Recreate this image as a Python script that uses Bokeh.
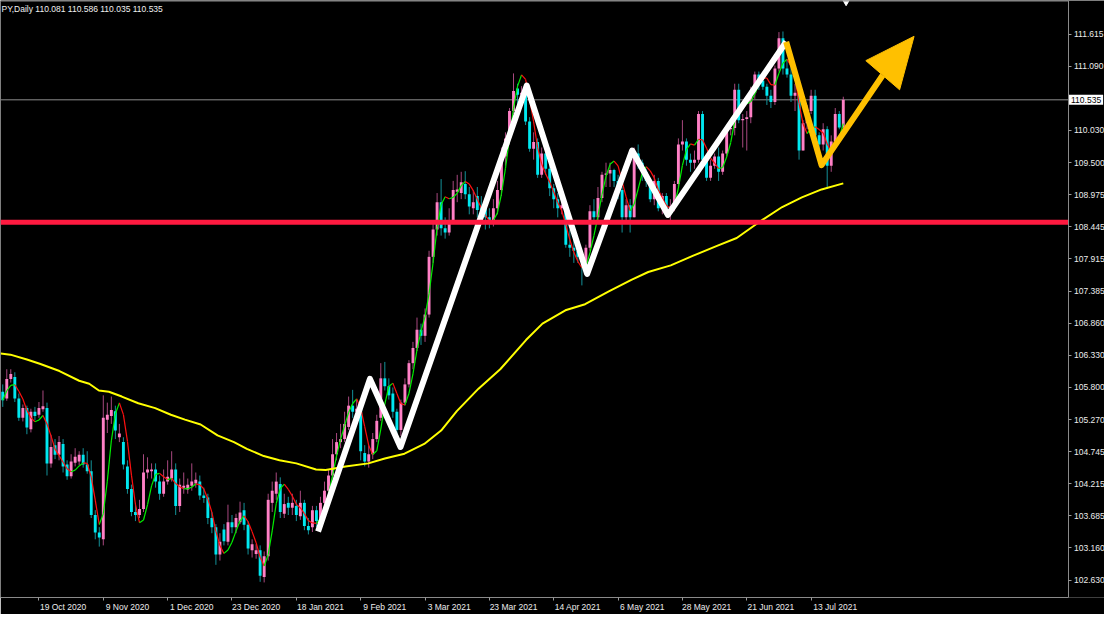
from bokeh.plotting import figure
from bokeh.models import FixedTicker, NumeralTickFormatter, Label, Range1d
from bokeh.embed import file_html
from bokeh.resources import INLINE

# ---------------- data (USDJPY daily) ----------------
opens = [105.73,105.62,105.94,105.97,105.62,105.30,105.46,105.11,105.40,105.35,
         105.44,105.46,104.55,104.85,104.69,104.87,104.53,104.34,104.56,104.58,
         104.69,104.53,104.42,103.70,103.41,103.30,105.27,105.33,105.41,104.98,
         104.90,104.50,104.13,103.75,103.70,103.80,104.40,104.42,104.45,104.25,
         104.05,104.25,104.30,104.45,103.85,104.15,104.12,104.18,104.22,104.25,
         104.02,103.99,103.65,103.50,103.05,103.46,103.26,103.58,103.50,103.58,
         103.78,103.54,103.12,103.06,103.12,102.68,103.02,103.90,104.05,104.21,
         103.72,103.90,103.82,103.85,103.68,103.90,103.52,103.50,103.78,103.60,
         103.90,104.10,104.35,104.70,104.90,104.95,105.15,105.50,105.40,105.45,
         104.72,104.58,104.70,104.95,105.30,105.95,105.82,105.70,105.40,105.10,
         105.55,105.85,106.20,106.45,106.75,106.65,107.00,107.95,108.40,108.85,
         108.42,108.35,108.55,109.02,109.00,109.15,108.98,108.75,108.95,108.78,
         108.82,108.60,108.55,108.75,109.05,109.60,109.90,110.35,110.72,110.62,
         110.65,110.18,109.73,109.84,109.30,109.65,109.40,109.08,108.90,108.75,
         108.80,108.15,108.10,108.05,107.95,107.85,108.10,108.70,108.60,108.92,
         109.30,109.32,109.38,109.20,109.05,108.60,108.80,108.60,109.65,109.50,
         109.35,109.20,108.90,109.20,108.75,108.95,108.75,108.78,109.15,109.80,
         109.85,109.55,109.50,109.55,110.30,109.55,109.25,109.45,109.60,109.35,
         109.65,110.05,110.07,110.70,110.20,110.22,110.25,110.65,110.95,110.85,
         110.75,110.60,110.50,111.05,111.55,111.05,110.95,110.60,110.65,109.70,
         110.15,110.35,110.60,109.95,109.80,110.05,109.45,109.85,110.30,110.081]
highs = [105.85,106.10,106.10,106.05,105.70,105.52,105.50,105.45,105.48,105.56,
         105.75,105.55,105.02,104.95,105.00,104.95,104.60,104.70,104.80,104.75,
         104.80,104.75,104.60,103.78,103.50,105.67,105.55,105.65,105.50,105.20,
         104.98,104.60,104.20,103.90,103.95,104.70,104.65,104.55,104.55,104.35,
         104.45,104.60,104.75,104.55,104.30,104.40,104.30,104.55,104.40,104.35,
         104.15,104.05,103.75,103.55,103.40,103.55,103.87,103.70,103.72,103.92,
         103.90,103.60,103.30,103.22,103.20,103.10,104.05,104.25,104.40,104.32,
         104.05,104.00,104.05,103.95,104.10,103.95,103.65,103.85,103.85,104.00,
         104.25,104.45,104.95,105.05,105.20,105.40,105.65,105.76,105.60,105.50,
         104.85,104.85,105.05,105.35,106.20,106.22,105.95,105.80,105.45,105.60,
         105.95,106.25,106.55,106.95,106.85,107.10,108.05,108.55,109.00,109.23,
         108.60,108.75,109.20,109.30,109.35,109.36,109.10,109.05,109.10,108.95,
         108.90,108.75,108.90,109.20,109.75,110.00,110.40,110.97,110.80,110.76,
         110.68,110.25,110.00,109.90,109.75,109.75,109.75,109.15,109.00,108.95,
         108.85,108.40,108.25,108.20,108.05,108.15,108.80,108.90,109.10,109.35,
         109.50,109.50,109.40,109.30,109.10,108.90,108.90,109.75,109.80,109.55,
         109.40,109.25,109.30,109.25,109.00,109.00,108.90,109.20,109.90,110.20,
         109.90,109.65,109.70,110.35,110.35,109.60,109.55,109.65,109.75,109.70,
         110.10,110.15,110.80,110.80,110.30,110.35,110.75,111.00,111.00,110.95,
         110.80,110.70,111.10,111.65,111.66,111.20,111.15,110.80,110.70,110.20,
         110.45,110.70,110.70,110.00,110.15,110.10,109.95,110.40,110.35,110.586]
lows = [105.48,105.58,105.88,105.56,105.25,105.24,105.03,105.06,105.26,105.30,
        105.40,104.35,104.48,104.62,104.60,104.40,104.28,104.30,104.50,104.52,
        104.48,104.38,103.65,103.30,103.18,103.20,105.05,105.20,104.95,104.90,
        104.45,104.05,103.68,103.60,103.65,103.75,104.30,104.30,104.15,103.95,
        104.00,104.20,104.25,103.70,103.75,104.05,104.05,104.10,104.15,103.95,
        103.90,103.55,103.40,102.88,102.95,103.20,103.20,103.40,103.40,103.55,
        103.45,103.05,103.00,102.98,102.60,102.59,102.95,103.75,103.95,103.65,
        103.65,103.70,103.70,103.60,103.62,103.45,103.38,103.42,103.50,103.50,
        103.85,104.00,104.30,104.60,104.80,104.90,105.10,105.30,105.25,104.60,
        104.50,104.48,104.62,104.90,105.25,105.75,105.60,105.30,104.93,105.00,
        105.50,105.80,106.10,106.40,106.50,106.55,106.95,107.85,108.30,108.30,
        108.25,108.30,108.50,108.85,108.90,108.90,108.65,108.65,108.60,108.50,
        108.40,108.42,108.45,108.65,108.95,109.45,109.80,110.30,110.38,110.50,
        110.12,109.68,109.55,109.25,109.25,109.30,108.95,108.75,108.60,108.65,
        108.10,107.95,107.85,107.85,107.48,107.75,108.05,108.55,108.55,108.85,
        109.10,109.10,109.10,108.90,108.35,108.50,108.35,108.60,109.40,109.20,
        109.10,108.85,108.80,108.70,108.65,108.70,108.55,108.70,109.10,109.70,
        109.45,109.35,109.40,109.50,109.50,109.20,109.20,109.40,109.20,109.30,
        109.60,109.95,109.95,110.15,109.75,109.70,110.15,110.55,110.70,110.70,
        110.45,110.40,110.45,111.00,110.95,110.90,110.50,110.35,109.55,109.70,
        110.05,110.30,109.80,109.70,109.70,109.07,109.35,109.80,110.05,110.035]
closes = [105.59,105.94,106.02,105.62,105.30,105.46,105.14,105.40,105.33,105.46,
          105.49,104.55,104.82,104.69,104.90,104.50,104.34,104.58,104.66,104.69,
          104.53,104.42,103.70,103.41,103.33,105.30,105.35,105.43,105.09,105.04,
          104.53,104.13,103.75,103.70,103.80,104.40,104.45,104.45,104.25,104.05,
          104.25,104.33,104.45,103.85,104.20,104.18,104.20,104.25,104.28,104.02,
          103.98,103.65,103.50,103.05,103.26,103.27,103.58,103.50,103.65,103.74,
          103.54,103.15,103.22,103.12,102.70,103.02,103.95,104.10,104.25,103.75,
          103.88,103.82,103.90,103.70,103.90,103.52,103.45,103.78,103.60,103.90,
          104.10,104.35,104.70,104.90,104.95,105.20,105.50,105.40,105.45,104.75,
          104.58,104.70,104.95,105.25,105.95,105.82,105.67,105.40,105.10,105.55,
          105.85,106.20,106.45,106.75,106.65,107.00,107.95,108.40,108.85,108.42,
          108.35,108.55,109.05,109.06,109.18,108.98,108.78,108.85,108.72,108.62,
          108.60,108.55,108.75,109.05,109.60,109.90,110.35,110.68,110.62,110.65,
          110.18,109.73,109.84,109.30,109.65,109.40,109.08,108.90,108.75,108.80,
          108.15,108.10,108.05,107.95,107.88,108.10,108.70,108.60,108.92,109.30,
          109.32,109.38,109.20,109.05,108.60,108.80,108.60,109.65,109.50,109.35,
          109.20,108.90,109.20,108.75,108.95,108.75,108.78,109.15,109.80,109.85,
          109.55,109.50,109.55,110.30,109.55,109.25,109.45,109.60,109.35,109.65,
          110.05,110.07,110.70,110.20,110.22,110.25,110.65,110.95,110.85,110.75,
          110.60,110.50,111.05,111.55,111.05,110.95,110.60,110.65,109.70,110.15,
          110.35,110.60,109.95,109.80,110.05,109.45,109.85,110.30,110.08,110.535]

# date axis: bar index of each date label
date_tick_bars = [9, 25, 41, 57, 73, 89, 105, 121, 137, 153, 169, 185, 201]
date_tick_labels = ["19 Oct 2020", "9 Nov 2020", "1 Dec 2020", "23 Dec 2020",
                    "18 Jan 2021", "9 Feb 2021", "3 Mar 2021", "23 Mar 2021",
                    "14 Apr 2021", "6 May 2021", "28 May 2021", "21 Jun 2021",
                    "13 Jul 2021"]
price_ticks = [102.630, 103.160, 103.685, 104.215, 104.745, 105.270, 105.800,
               106.330, 106.860, 107.385, 107.915, 108.445, 108.975, 109.500,
               110.030, 111.090, 111.615]

header_text = "PY,Daily  110.081 110.586 110.035 110.535"
last_price = 110.535
support_level = 108.52

# slow moving average (yellow), read at points along the curve
ma_bars = [-0.5, 1.9, 6.0, 9.2, 14.1, 19.0, 21.5, 23.9, 26.4, 29.6, 33.7, 37.9,
           41.8, 45.3, 49.2, 53.4, 57.5, 60.7, 64.9, 68.8, 73.0, 77.9, 80.3,
           85.2, 90.9, 95.0, 99.9, 104.8, 109.0, 112.9, 118.3, 123.7, 130.1,
           134.2, 139.9, 144.8, 150.7, 156.3, 160.5, 166.1, 171.7, 177.6,
           182.5, 188.9, 193.8, 198.7, 203.6, 209.0]
ma_vals = [106.36, 106.34, 106.26, 106.19, 106.07, 105.91, 105.86, 105.75,
           105.73, 105.65, 105.54, 105.46, 105.35, 105.27, 105.19, 105.01,
           104.90, 104.79, 104.67, 104.60, 104.55, 104.45, 104.44, 104.50,
           104.55, 104.63, 104.71, 104.87, 105.09, 105.41, 105.78, 106.10,
           106.58, 106.85, 107.07, 107.17, 107.38, 107.57, 107.70, 107.81,
           107.97, 108.13, 108.26, 108.56, 108.77, 108.93, 109.06, 109.16]

# hand-drawn zig-zag (white) and arrow (gold)
zig_bars = [78.4, 91.3, 98.9, 130.3, 145.3, 156.5, 165.4, 194.8]
zig_prices = [103.43, 105.94, 104.82, 110.77, 107.67, 109.70, 108.64, 111.49]
arrow_bars = [194.8, 203.6, 218.8]
arrow_prices = [111.49, 109.46, 110.94]
head_bars = [214.6, 226.6, 223.0]
head_prices = [111.18, 111.58, 110.70]

# ---------------- figure ----------------
N = min(len(opens), len(highs), len(lows), len(closes))
idx = list(range(N))
X0, X1 = -0.56, 273.95      # whole canvas width (incl. price-scale strip)
XA = 264.88                 # where the price scale sits
Y0, Y1 = 102.342, 112.17
FONT = "Liberation Sans"
TXT = "#ececec"
FRAME = "#8a8a8a"

p = figure(width=1104, height=614,
           x_range=Range1d(X0, X1), y_range=Range1d(Y0, Y1),
           output_backend="svg", toolbar_location=None,
           y_axis_location="right",
           min_border_left=0, min_border_top=0,
           min_border_right=0, min_border_bottom=14,
           background_fill_color="black", border_fill_color="black",
           outline_line_color=None)
p.grid.visible = False

# current-price line (behind the bars)
p.segment(x0=[X0], y0=[last_price], x1=[XA], y1=[last_price],
          line_color="#8c8c8c", line_width=1)

bull_body, bear_body = "#ff80c6", "#00e8f0"
bull_wick, bear_wick = "#a8487f", "#139098"
up = [closes[i] >= opens[i] for i in idx]
body_top = [max(opens[i], closes[i]) for i in idx]
body_bot = [min(opens[i], closes[i]) for i in idx]
body_bot = [b if t - b > 0.016 else t - 0.016 for t, b in zip(body_top, body_bot)]

p.segment(x0=idx, y0=lows[:N], x1=idx, y1=highs[:N],
          line_color=[bull_wick if u else bear_wick for u in up], line_width=1)
p.vbar(x=idx, width=0.72, top=body_top, bottom=body_bot,
       fill_color=[bull_body if u else bear_body for u in up], line_color=None)

# fast coloured average (Hull-type) computed from the closes
def wma(series, n):
    out = []
    for i in range(len(series)):
        lo = max(0, i - n + 1)
        seg = series[lo:i + 1]
        w = list(range(1, len(seg) + 1))
        out.append(sum(a * b for a, b in zip(seg, w)) / sum(w))
    return out

c = closes[:N]
raw = [2 * a - b for a, b in zip(wma(c, 5), wma(c, 10))]
fast = wma(raw, 3)
seg_col = ["#00ee00" if fast[i + 1] >= fast[i] else "#ff1010" for i in range(N - 1)]
p.segment(x0=idx[:-1], y0=fast[:-1], x1=idx[1:], y1=fast[1:],
          line_color=seg_col, line_width=1.2)

# slow yellow average
p.line(ma_bars, ma_vals, line_color="#ffff00", line_width=2)

# white zig-zag
p.line(zig_bars, zig_prices, line_color="white", line_width=6, line_join="round")

# red support line (above zig-zag)
p.segment(x0=[X0], y0=[support_level], x1=[XA], y1=[support_level],
          line_color="#ff1a40", line_width=5)

# gold arrow
p.line(arrow_bars, arrow_prices, line_color="#ffc000", line_width=6,
       line_join="round")
p.patch(head_bars, head_prices, fill_color="#ffc000", line_color="#ffc000",
        line_width=1)

# chart-shift marker
p.scatter([N - 0.3], [Y1], marker="inverted_triangle", size=9,
          fill_color="white", line_color="white")

# top border of the chart window
p.segment(x0=[X0], y0=[Y1], x1=[XA], y1=[Y1], line_color=FRAME, line_width=2)

# axes
label_pos = [b + 6 for b in date_tick_bars]
xa = p.xaxis[0]
xa.bounds = (X0, XA)
xa.ticker = FixedTicker(ticks=label_pos, minor_ticks=date_tick_bars)
xa.major_label_overrides = {pos: lab for pos, lab in zip(label_pos, date_tick_labels)}
xa.major_tick_out = 0
xa.major_tick_in = 0
xa.minor_tick_out = 3
xa.minor_tick_in = 0
xa.minor_tick_line_color = "#9a9a9a"
xa.axis_line_color = FRAME
xa.major_label_standoff = 1
xa.major_label_text_color = TXT
xa.major_label_text_font = FONT
xa.major_label_text_font_size = "8.5px"

ya = p.yaxis[0]
ya.fixed_location = XA
ya.ticker = FixedTicker(ticks=price_ticks, minor_ticks=[])
ya.formatter = NumeralTickFormatter(format="0.000")
ya.major_tick_out = 3
ya.major_tick_in = 0
ya.minor_tick_out = 0
ya.minor_tick_in = 0
ya.major_tick_line_color = "#9a9a9a"
ya.axis_line_color = FRAME
ya.major_label_standoff = 3
ya.major_label_text_color = TXT
ya.major_label_text_font = FONT
ya.major_label_text_font_size = "8.5px"

# price tag on the price scale
p.add_layout(Label(x=XA, y=last_price, x_offset=1,
                   text=f"{last_price:.3f}", text_color="black",
                   text_font=FONT, text_font_size="8.5px",
                   text_baseline="middle", text_align="left",
                   background_fill_color="white", padding=2))

# header
p.add_layout(Label(x=X0, y=Y1, x_offset=1, y_offset=-3,
                   text=header_text, text_color="#f0f0f0",
                   text_font=FONT, text_font_size="8.5px",
                   text_baseline="top", text_align="left"))

open("out.html", "w").write(file_html(p, INLINE))
